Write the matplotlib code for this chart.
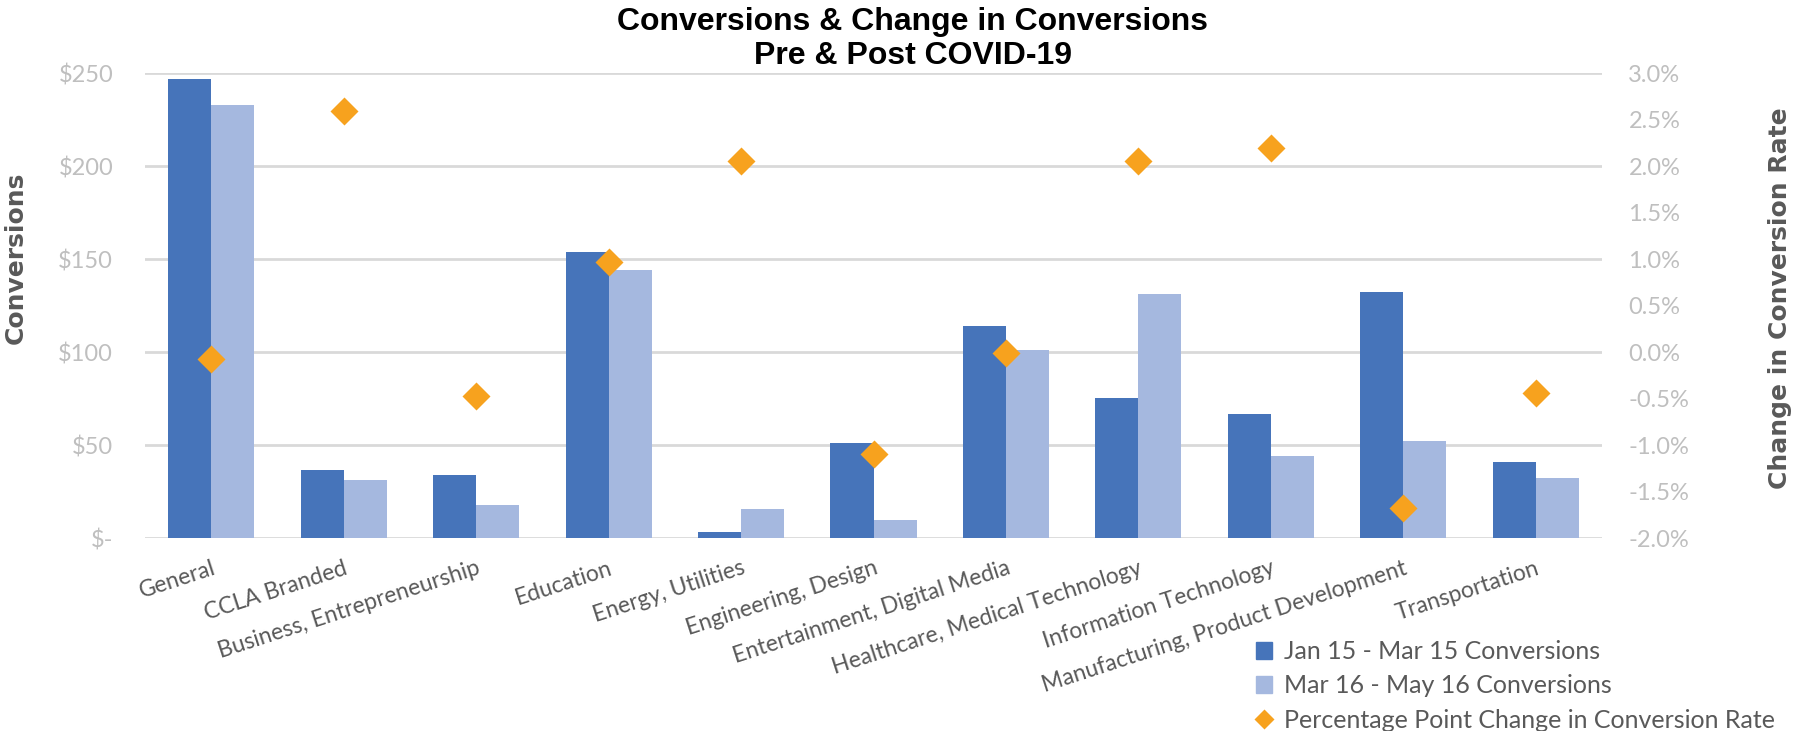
import numpy as np
import matplotlib
matplotlib.use("Agg")
import matplotlib.pyplot as plt
from matplotlib.patches import Patch
from matplotlib.lines import Line2D
from matplotlib.ticker import FuncFormatter, MultipleLocator

# categories and values
categories = ["General", "CCLA Branded", "Business, Entrepreneurship", "Education",
              "Energy, Utilities", "Engineering, Design", "Entertainment, Digital Media",
              "Healthcare, Medical Technology", "Information Technology",
              "Manufacturing, Product Development", "Transportation"]
pre_covid = [247, 36.5, 34, 154, 3.5, 51, 114, 75.5, 66.5, 132.5, 41]
post_covid = [233, 31, 18, 144, 15.5, 9.5, 101, 131, 44, 52, 32.5]
rate_change = [-0.07, 2.59, -0.47, 0.97, 2.05, -1.10, -0.01, 2.05, 2.19, -1.68, -0.44]  # percentage points

series_names = ["Jan 15 - Mar 15 Conversions", "Mar 16 - May 16 Conversions",
                "Percentage Point Change in Conversion Rate"]

dark_blue = "#4674BA"
light_blue = "#A5B8DF"
orange = "#F7A21E"
grid_grey = "#D9D9D9"
tick_grey = "#BFBFBF"
text_grey = "#595959"

fig = plt.figure(figsize=(18, 7.31), dpi=100)
ax = fig.add_axes([0.0806, 0.264, 0.8094, 0.636])

x = np.arange(len(categories))
w = 0.325
ax.bar(x - w / 2, pre_covid, w, color=dark_blue, zorder=2)
ax.bar(x + w / 2, post_covid, w, color=light_blue, zorder=2)

ax.set_xlim(-0.5, len(categories) - 0.5)
ax.set_ylim(0, 250)
ax.yaxis.set_major_locator(MultipleLocator(50))
ax.yaxis.set_major_formatter(FuncFormatter(lambda v, p: "$-" if v == 0 else "${:.0f}".format(v)))
ax.grid(axis="y", color=grid_grey, lw=2, zorder=0)
ax.set_axisbelow(True)
for s in ax.spines.values():
    s.set_visible(False)
ax.tick_params(axis="y", length=0, pad=23, labelsize=17, labelcolor=tick_grey)
ax.set_xticks(x)
ax.set_xticklabels(categories, rotation=18, ha="right", rotation_mode="anchor",
                   fontsize=16.5, color=text_grey)
ax.tick_params(axis="x", length=0, pad=14)
for lab in ax.get_yticklabels():
    lab.set_fontfamily("Lato")
for lab in ax.get_xticklabels():
    lab.set_fontfamily("Lato")

# right axis: change in conversion rate
ax2 = ax.twinx()
ax2.plot(x, rate_change, ls="none", marker="D", ms=14, color=orange, mec="none", zorder=3)
ax2.set_ylim(-2.0, 3.0)
ax2.yaxis.set_major_locator(MultipleLocator(0.5))
ax2.yaxis.set_major_formatter(FuncFormatter(lambda v, p: "{:.1f}%".format(v)))
for s in ax2.spines.values():
    s.set_visible(False)
ax2.tick_params(axis="y", length=0, pad=19, labelsize=17, labelcolor=tick_grey)
for lab in ax2.get_yticklabels():
    lab.set_fontfamily("Lato")

fig.text(0.507, 1 - 39 / 731, "Conversions & Change in Conversions\nPre & Post COVID-19",
         ha="center", va="center", fontsize=23, fontweight="bold",
         family="Liberation Sans", linespacing=1.2)
fig.text(16 / 1800, 1 - 258 / 731, "Conversions", rotation=90, ha="center", va="center",
         fontsize=18, fontweight="bold", color=text_grey, family="DejaVu Sans")
fig.text(1780 / 1800, 1 - 298 / 731, "Change in Conversion Rate", rotation=90,
         ha="center", va="center", fontsize=18, fontweight="bold", color=text_grey,
         family="DejaVu Sans")

handles = [Patch(color=dark_blue), Patch(color=light_blue),
           Line2D([], [], ls="none", marker="D", ms=10, color=orange, mec="none")]
fig.legend(handles, series_names, loc="upper left", bbox_to_anchor=(1256 / 1800, 1 - 640 / 731),
           frameon=False, prop={"family": "Lato", "size": 18}, labelcolor=text_grey,
           handlelength=0.65, handleheight=0.65, handletextpad=0.45, labelspacing=0.45,
           borderpad=0, borderaxespad=0)

fig.savefig("out.png", dpi=100)
